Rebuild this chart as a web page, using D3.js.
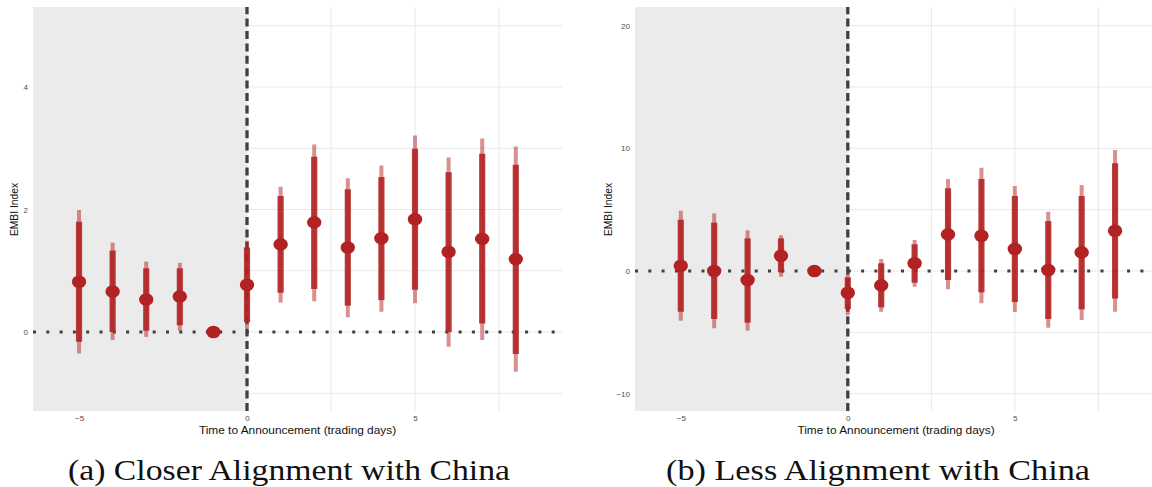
<!DOCTYPE html>
<html>
<head>
<meta charset="utf-8">
<script src="https://cdn.jsdelivr.net/npm/d3@7"></script>
<style>
  html, body { margin: 0; padding: 0; background: #ffffff; }
  svg { display: block; }
</style>
</head>
<body>
<svg id="chart" width="1152" height="487"></svg>
<script>
// ---------------- data ----------------
const days = [-5, -4, -3, -2, -1, 0, 1, 2, 3, 4, 5, 6, 7, 8];
const xTickValues = [-5, 0, 5];

// (a) Closer Alignment with China
const closerEst  = [0.82, 0.66, 0.53, 0.58, 0, 0.77, 1.43, 1.79, 1.38, 1.53, 1.84, 1.31, 1.52, 1.19];
const closerLo90 = [-0.16, 0.00, 0.02, 0.11, null, 0.16, 0.64, 0.70, 0.43, 0.52, 0.69, 0.00, 0.14, -0.36];
const closerHi90 = [1.80, 1.33, 1.04, 1.04, null, 1.38, 2.22, 2.86, 2.33, 2.53, 2.99, 2.61, 2.91, 2.73];
const closerLo95 = [-0.35, -0.13, -0.08, 0.02, null, 0.06, 0.48, 0.50, 0.24, 0.33, 0.47, -0.24, -0.13, -0.65];
const closerHi95 = [1.99, 1.46, 1.15, 1.13, null, 1.49, 2.37, 3.06, 2.51, 2.72, 3.21, 2.85, 3.16, 3.03];
const closerYTicks = [0, 2, 4];
const closerYGrid = [-1, 0, 1, 2, 3, 4, 5];

// (b) Less Alignment with China
const lessEst  = [0.43, 0.00, -0.73, 1.25, 0, -1.77, -1.17, 0.63, 2.99, 2.88, 1.79, 0.08, 1.52, 3.28];
const lessLo90 = [-3.32, -3.91, -4.21, -0.11, null, -3.10, -2.96, -0.95, -0.73, -1.74, -2.53, -3.91, -3.12, -2.23];
const lessHi90 = [4.18, 3.94, 2.66, 2.66, null, -0.51, 0.63, 2.18, 6.74, 7.50, 6.11, 4.07, 6.11, 8.78];
const lessLo95 = [-4.05, -4.67, -4.86, -0.46, null, -3.59, -3.32, -1.28, -1.49, -2.63, -3.34, -4.62, -3.99, -3.32];
const lessHi95 = [4.91, 4.70, 3.32, 2.91, null, -0.20, 0.98, 2.53, 7.50, 8.42, 6.93, 4.83, 7.01, 9.86];
const lessYTicks = [-10, 0, 10, 20];
const lessYGrid = [-10, -5, 0, 5, 10, 15, 20];

const xGrid = [-5, -2.5, 0, 2.5, 5, 7.5];
const captions = ["(a) Closer Alignment with China", "(b) Less Alignment with China"];
const yTitle = "EMBI Index";
const xTitle = "Time to Announcement (trading days)";

// ---------------- drawing ----------------
const svg = d3.select("#chart");
const SANS = "'Liberation Sans', Arial, Helvetica, sans-serif";
const SERIF = "'Liberation Serif', 'Times New Roman', serif";
const HSTRETCH = 1.13; // the source figure is slightly stretched horizontally

function drawPanel(cfg, idx) {
  const x = d3.scaleLinear().domain([-6.37, 9.375]).range([cfg.left, cfg.right]);
  const y = d3.scaleLinear().domain(cfg.yDomain).range([cfg.bottom, cfg.top]);
  const g = svg.append("g");

  const clipId = "clip" + idx;
  svg.append("clipPath").attr("id", clipId)
    .append("rect")
    .attr("x", cfg.left).attr("y", cfg.top)
    .attr("width", cfg.right - cfg.left).attr("height", cfg.bottom - cfg.top);

  const plot = g.append("g").attr("clip-path", `url(#${clipId})`);

  // gridlines
  plot.selectAll("line.hgrid").data(cfg.yGrid).join("line")
    .attr("class", "hgrid")
    .attr("x1", cfg.left).attr("x2", cfg.right)
    .attr("y1", d => y(d)).attr("y2", d => y(d))
    .attr("stroke", "#e8e8e8").attr("stroke-width", 1);
  plot.selectAll("line.vgrid").data(xGrid).join("line")
    .attr("class", "vgrid")
    .attr("x1", d => x(d)).attr("x2", d => x(d))
    .attr("y1", cfg.top).attr("y2", cfg.bottom)
    .attr("stroke", "#e8e8e8").attr("stroke-width", 1);

  // shaded pre-announcement region
  plot.append("rect")
    .attr("x", cfg.left).attr("y", cfg.top)
    .attr("width", x(0) - cfg.left).attr("height", cfg.bottom - cfg.top)
    .attr("fill", "#ebebeb");

  // zero reference (dotted)
  plot.append("line")
    .attr("x1", cfg.left).attr("x2", cfg.right)
    .attr("y1", y(0)).attr("y2", y(0))
    .attr("stroke", "#404040").attr("stroke-width", 3)
    .attr("stroke-dasharray", "3,10.3");

  // announcement line (dashed), drawn bottom to top
  plot.append("line")
    .attr("x1", x(0)).attr("x2", x(0))
    .attr("y1", cfg.bottom).attr("y2", cfg.top)
    .attr("stroke", "#404040").attr("stroke-width", 3.3)
    .attr("stroke-dasharray", "8,4.4");

  const rows = days.map((d, i) => ({
    day: d, est: cfg.est[i], lo90: cfg.lo90[i], hi90: cfg.hi90[i], lo95: cfg.lo95[i], hi95: cfg.hi95[i]
  }));
  const withCI = rows.filter(r => r.lo95 !== null);

  // 95% intervals (thin, light)
  plot.selectAll("line.ci95").data(withCI).join("line")
    .attr("class", "ci95")
    .attr("x1", d => x(d.day)).attr("x2", d => x(d.day))
    .attr("y1", d => y(d.lo95)).attr("y2", d => y(d.hi95))
    .attr("stroke", "#b22222").attr("stroke-opacity", 0.5).attr("stroke-width", 4);

  // 90% intervals (thick)
  plot.selectAll("line.ci90").data(withCI).join("line")
    .attr("class", "ci90")
    .attr("x1", d => x(d.day)).attr("x2", d => x(d.day))
    .attr("y1", d => y(d.lo90)).attr("y2", d => y(d.hi90))
    .attr("stroke", "#b22222").attr("stroke-opacity", 0.88).attr("stroke-width", 6.2);

  // point estimates
  plot.selectAll("ellipse.pt").data(rows).join("ellipse")
    .attr("class", "pt")
    .attr("cx", d => x(d.day)).attr("cy", d => y(d.est))
    .attr("rx", 7.2).attr("ry", 6.3)
    .attr("fill", "#b22222");

  // y axis tick labels
  const yAxis = d3.axisLeft(y).tickValues(cfg.yTicks).tickSize(0).tickPadding(5)
    .tickFormat(d3.format("d"));
  const ya = g.append("g").attr("transform", `translate(${cfg.left},0)`).call(yAxis);
  ya.select(".domain").remove();
  ya.selectAll("text").attr("font-family", SANS).attr("font-size", 8).attr("fill", "#4d4d4d");

  // x axis tick labels
  const xAxis = d3.axisBottom(x).tickValues(xTickValues).tickSize(0).tickPadding(4)
    .tickFormat(d3.format("d"));
  const xa = g.append("g").attr("transform", `translate(0,${cfg.bottom})`).call(xAxis);
  xa.select(".domain").remove();
  xa.selectAll("text").attr("font-family", SANS).attr("font-size", 8).attr("fill", "#4d4d4d");

  // axis titles
  g.append("text")
    .attr("transform", `translate(${cfg.xTitleX},433.5) scale(${HSTRETCH},1)`)
    .attr("text-anchor", "middle")
    .attr("font-family", SANS).attr("font-size", 10.5).attr("fill", "#111")
    .text(xTitle);
  g.append("text")
    .attr("transform", `translate(${cfg.yTitleX},209.5) rotate(-90)`)
    .attr("text-anchor", "middle")
    .attr("font-family", SANS).attr("font-size", 10.3).attr("fill", "#111")
    .text(yTitle);

  // caption
  g.append("text")
    .attr("x", cfg.capX).attr("y", 479.5)
    .attr("text-anchor", "middle")
    .attr("font-family", SERIF).attr("font-size", 30).attr("fill", "#111")
    .attr("textLength", cfg.capW).attr("lengthAdjust", "spacingAndGlyphs")
    .text(captions[idx]);
}

drawPanel({
  left: 33, right: 562, top: 7, bottom: 411,
  yDomain: [-1.29, 5.306], yGrid: closerYGrid, yTicks: closerYTicks,
  est: closerEst, lo90: closerLo90, hi90: closerHi90, lo95: closerLo95, hi95: closerHi95,
  xTitleX: 297.5, yTitleX: 17.5, capX: 289, capW: 442
}, 0);

drawPanel({
  left: 635, right: 1161, top: 7, bottom: 411,
  yDomain: [-11.41, 21.52], yGrid: lessYGrid, yTicks: lessYTicks,
  est: lessEst, lo90: lessLo90, hi90: lessHi90, lo95: lessLo95, hi95: lessHi95,
  xTitleX: 896, yTitleX: 611.5, capX: 878, capW: 424
}, 1);
</script>
</body>
</html>
